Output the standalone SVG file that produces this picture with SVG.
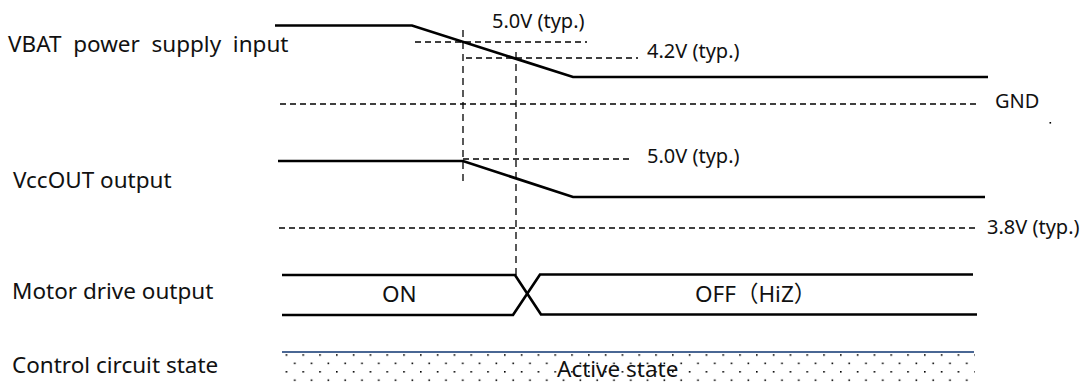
<svg xmlns="http://www.w3.org/2000/svg" width="1089" height="387" viewBox="0 0 1089 387">
<style>
.lbl{font-family:"Noto Sans","Noto Sans CJK JP",sans-serif;font-size:22.5px;fill:#111;white-space:pre}
.ann{font-family:"Noto Sans","Noto Sans CJK JP",sans-serif;font-size:20px;fill:#111;white-space:pre}
.sig{fill:none;stroke:#000;stroke-width:2.7;stroke-linejoin:miter}
.dash{fill:none;stroke:#000;stroke-width:1.3;stroke-dasharray:6 4}
.vdash{fill:none;stroke:#000;stroke-width:1.3;stroke-dasharray:7 5}
</style>
<defs>
<pattern id="dots" patternUnits="userSpaceOnUse" x="403.2" y="354.2" width="16.8" height="16.8">
<rect x="0" y="0" width="1.6" height="1.6" fill="#000"/>
<rect x="8.4" y="8.4" width="1.6" height="1.6" fill="#000"/>
</pattern>
</defs>
<rect width="1089" height="387" fill="#fff"/>

<g id="labels">
<text class="lbl" x="8" y="52">VBAT  power  supply  input</text>
<text class="lbl" x="13" y="188">VccOUT output</text>
<text class="lbl" x="12" y="299">Motor drive output</text>
<text class="lbl" x="12" y="373">Control circuit state</text>
</g>

<g id="vbat">
<path class="sig" d="M275,25.5 H412 L573,77 H988"/>
<path class="dash" d="M415,42 H587"/>
<path class="dash" d="M466,58 H638"/>
<text class="ann" x="492" y="28">5.0V (typ.)</text>
<text class="ann" x="647" y="58">4.2V (typ.)</text>
</g>

<g id="gnd">
<path class="dash" d="M280,104 H980"/>
<text class="ann" x="995" y="108">GND</text>
<rect x="1049.5" y="122" width="1.6" height="1.6" fill="#000"/>
</g>

<g id="vccout">
<path class="sig" d="M278,161 H463 L573,197 H985"/>
<path class="dash" d="M463,159 H633"/>
<text class="ann" x="647" y="163">5.0V (typ.)</text>
<path class="dash" d="M279,228 H977"/>
<text class="ann" x="987" y="234">3.8V (typ.)</text>
</g>

<g id="motor">
<path class="sig" d="M282,275 H515 L541,314.5 H977"/>
<path class="sig" d="M282,315 H513 L540,274.5 H973"/>
<text class="lbl" x="382" y="302">ON</text>
<text class="lbl" x="695" y="302">OFF（HiZ）</text>
</g>

<g id="control">
<rect x="282" y="353" width="693" height="34" fill="url(#dots)"/>
<path d="M282,352 H974" stroke="#4a6794" stroke-width="1.8" fill="none"/>
<text class="lbl" x="557" y="377">Active state</text>
</g>

<g id="connectors">
<path class="vdash" d="M463,30 V184"/>
<path class="vdash" d="M516,52 V276"/>
</g>
</svg>
